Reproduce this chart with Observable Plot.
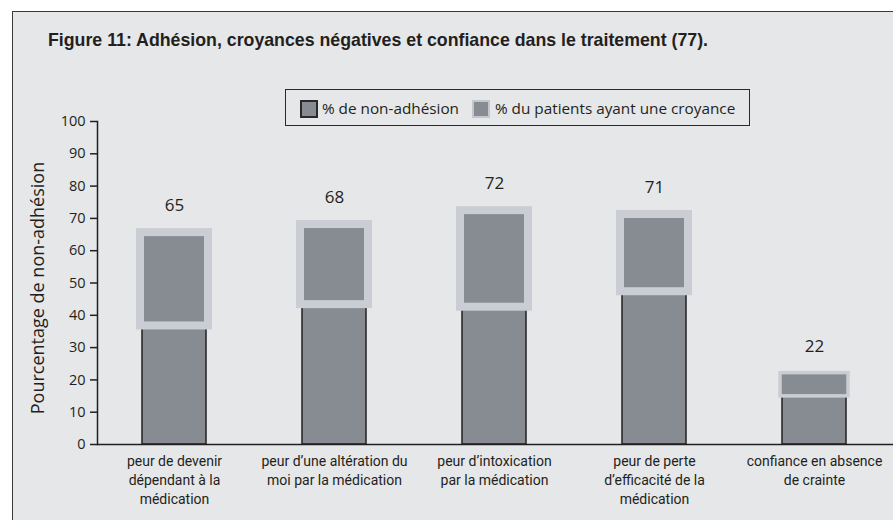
<!DOCTYPE html>
<html>
<head>
<meta charset="utf-8">
<script src="https://cdn.jsdelivr.net/npm/d3@7"></script>
<script src="https://cdn.jsdelivr.net/npm/@observablehq/plot@0.6"></script>
<style>
  html, body { margin: 0; padding: 0; background: #ffffff; width: 893px; height: 520px; overflow: hidden; }
  #frame { position: absolute; left: 12px; top: 11px; width: 900px; height: 530px;
           background: #e6e7e9; border-left: 1.5px solid #3a3a3a; border-top: 1.5px solid #3a3a3a; }
  #title { position: absolute; left: 48px; top: 31px; font-family: "Liberation Sans", Arial, sans-serif;
           font-weight: bold; font-size: 18.5px; line-height: 1; color: #231f20; white-space: nowrap;
           transform-origin: 0 0; }
  #legend { position: absolute; left: 285px; top: 89px; width: 463px; height: 35px; border: 1.5px solid #2a2a2a;
            font-family: "Open Sans", sans-serif; font-size: 15.3px; line-height: 1; color: #231f20; }
  .sw { position: absolute; top: 10px; width: 14px; height: 14px; background: #878c92; }
  .lt { position: absolute; top: 10.5px; white-space: nowrap; }
  #chart { position: absolute; left: 0; top: 0; }
</style>
</head>
<body>
<div id="frame"></div>
<div id="title"></div>
<div id="legend"></div>
<div id="chart"></div>
<script>
const titleText = "Figure 11: Adhésion, croyances négatives et confiance dans le traitement (77).";
const categories = [
  "peur de devenir\ndépendant à la\nmédication",
  "peur d’une altération du\nmoi par la médication",
  "peur d’intoxication\npar la médication",
  "peur de perte\nd’efficacité de la\nmédication",
  "confiance en absence\nde crainte"
];
const topValues = [65.6, 68.1, 72.4, 71.2, 22.1];
const lowValues = [36.7, 43.3, 42.5, 47.3, 14.9];
const valueLabels = ["65", "68", "72", "71", "22"];
const legendLabels = ["% de non-adhésion", "% du patients ayant une croyance"];
const yTicks = [0, 10, 20, 30, 40, 50, 60, 70, 80, 90, 100];
const yLabel = "Pourcentage de non-adhésion";

const titleEl = document.getElementById("title");
titleEl.textContent = titleText;
const tw = titleEl.getBoundingClientRect().width;
titleEl.style.transform = `scaleX(${660 / tw})`;

const legend = document.getElementById("legend");
legend.innerHTML =
  `<div class="sw" style="left:14px;border:2px solid #2a2a2a;"></div>` +
  `<div class="lt" style="left:36px;">${legendLabels[0]}</div>` +
  `<div class="sw" style="left:186px;border:2px solid #c3c6cd;"></div>` +
  `<div class="lt" style="left:209px;">${legendLabels[1]}</div>`;

const rows = categories.map((c, i) => ({cat: c, top: topValues[i], low: lowValues[i], label: valueLabels[i]}));

const barFill = "#878c92";
const ink = "#231f20";
const boxStroke = "#cbcdd4";

const chart = Plot.plot({
  width: 893,
  height: 520,
  marginTop: 121,
  marginBottom: 76,
  marginLeft: 97,
  marginRight: 0,
  style: {background: "transparent", fontFamily: "Open Sans, sans-serif", color: ink, overflow: "visible"},
  x: {domain: categories, range: [94, 894], padding: 0, axis: null},
  y: {domain: [0, 100], axis: null},
  marks: [
    Plot.barY(rows, {x: "cat", y: "top", fill: barFill, stroke: ink, strokeWidth: 1.5, insetLeft: 48, insetRight: 48}),
    Plot.barY(rows, {filter: (d, i) => i < 4, x: "cat", y1: "low", y2: "top", fill: barFill, stroke: boxStroke, strokeWidth: 8, insetLeft: 46, insetRight: 46}),
    Plot.barY(rows, {filter: (d, i) => i >= 4, x: "cat", y1: "low", y2: "top", fill: barFill, stroke: boxStroke, strokeWidth: 3.5, insetLeft: 46, insetRight: 46}),
    Plot.text(rows, {x: "cat", y: "top", text: "label", dy: -27, fontSize: 17, fill: ink}),
    Plot.axisY(yTicks, {anchor: "left", tickSize: 7, tickPadding: 5, fontSize: 14.5, label: null, strokeWidth: 1.5}),
    Plot.axisX({anchor: "bottom", tickSize: 0, tickPadding: 7.5, fontSize: 14, fontFamily: "Roboto, sans-serif", lineHeight: 1.38, label: null}),
    Plot.frame({anchor: "left", stroke: ink, strokeWidth: 1.5}),
    Plot.ruleY([0], {stroke: ink, strokeWidth: 1.5}),
    Plot.text([yLabel], {frameAnchor: "left", textAnchor: "middle", dx: -59, dy: 5, rotate: -90, fontSize: 18, fill: ink})
  ]
});
document.getElementById("chart").appendChild(chart);
</script>
</body>
</html>
